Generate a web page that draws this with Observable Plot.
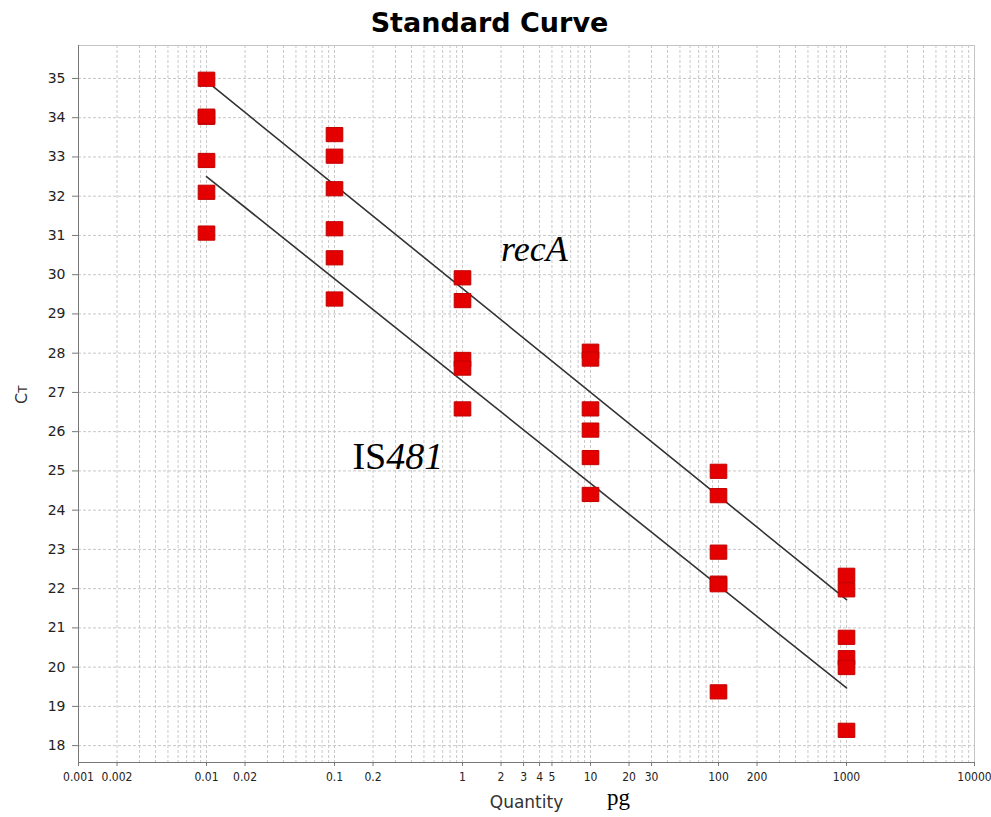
<!DOCTYPE html>
<html><head><meta charset="utf-8">
<script src="https://cdn.jsdelivr.net/npm/d3@7"></script>
<script src="https://cdn.jsdelivr.net/npm/@observablehq/plot@0.6"></script>
<style>body{margin:0;background:#fff}</style>
</head><body><div id="chart"></div>
<script>
// ---- data ----
const concentrations = [0.01, 0.1, 1, 10, 100, 1000];
const recACt = [
  [34.98, 34.01, 34.04, 32.91],
  [33.57, 33.02, 32.19],
  [29.92, 29.34],
  [28.05, 27.85, 26.58, 26.04],
  [24.99, 24.37],
  [22.34, 21.97, 20.76]
];
const is481Ct = [
  [32.10, 31.06],
  [31.17, 30.43, 29.38],
  [27.84, 27.62, 26.58],
  [25.34, 24.40],
  [22.93, 22.14, 22.10, 19.37],
  [20.24, 19.99, 18.39]
];
const fitX = [0.01, 1000];
const recAFit = [34.93, 21.72];
const is481Fit = [32.50, 19.47];
const yTicks = [18, 19, 20, 21, 22, 23, 24, 25, 26, 27, 28, 29, 30, 31, 32, 33, 34, 35];
const xTickValues = [0.001, 0.002, 0.01, 0.02, 0.1, 0.2, 1, 2, 3, 4, 5, 10, 20, 30, 100, 200, 1000, 10000];
const xTickLabels = ["0.001", "0.002", "0.01", "0.02", "0.1", "0.2", "1", "2", "3", "4", "5", "10", "20", "30", "100", "200", "1000", "10000"];
const labelNames = ["recA", "IS481"];
const labelX = [2, 0.138];
const labelY = [30.65, 25.37];
const titleText = "Standard Curve";
const xTitle = "Quantity";
const xUnit = "pg";
const yTitle = "CT";

// ---- build tables ----
const points = [];
concentrations.forEach((c, i) => {
  recACt[i].forEach(v => points.push({x: c, y: v, gene: "recA"}));
  is481Ct[i].forEach(v => points.push({x: c, y: v, gene: "IS481"}));
});
const fits = fitX.map((x, i) => ({x, recA: recAFit[i], is481: is481Fit[i]}));
const labels = labelNames.map((t, i) => ({t, x: labelX[i], y: labelY[i]}));
const xTicks = xTickValues.map((v, i) => ({v, label: xTickLabels[i]}));

const xDomain = [0.001, 10000];
const yDomain = [17.57, 35.84];
const square = {draw(ctx) { ctx.rect(-8.3, -7.1, 16.6, 14.2); }};
const gridStyle = {stroke: "#c8c8c8", strokeOpacity: 1, strokeDasharray: "3,2"};

const chart = Plot.plot({
  width: 991, height: 817,
  marginLeft: 78, marginRight: 17, marginTop: 45, marginBottom: 55,
  style: {background: "#fff", fontFamily: "DejaVu Sans, sans-serif"},
  x: {type: "log", domain: xDomain},
  y: {domain: yDomain},
  marks: [
    Plot.gridX(d3.scaleLog().domain(xDomain).ticks(), gridStyle),
    Plot.gridY(yTicks, gridStyle),
    Plot.frame({stroke: "#c4c4c4"}),
    Plot.ruleX([xDomain[0]], {stroke: "#777"}),
    Plot.ruleY([yDomain[0]], {stroke: "#777"}),
    Plot.axisY(yTicks, {tickSize: 6, tickPadding: 7, fontSize: 14, fill: "#222", stroke: "#777", label: null}),
    Plot.axisX(xTickValues, {tickSize: 4, stroke: "#777", fill: "none", label: null}),
    Plot.text(xTicks, {x: "v", text: "label", frameAnchor: "bottom", lineAnchor: "middle", dy: 15, fontSize: 12, fill: "#222",
      fontFamily: "Liberation Sans Narrow, DejaVu Sans Condensed, sans-serif"}),
    Plot.line(fits, {x: "x", y: "recA", stroke: "#333", strokeWidth: 1.6}),
    Plot.line(fits, {x: "x", y: "is481", stroke: "#333", strokeWidth: 1.6}),
    Plot.dot(points, {x: "x", y: "y", symbol: square, r: 8, fill: "#e40000", stroke: "#c20000", strokeWidth: 1}),
    Plot.text(labels.filter(d => d.t === "recA"), {x: "x", y: "y", text: "t", textAnchor: "start",
      fontFamily: "Liberation Serif, serif", fontSize: 36, fontStyle: "italic", fill: "#000"}),
    Plot.text(labels.filter(d => d.t !== "recA"), {x: "x", y: "y", text: "t", textAnchor: "start",
      fontFamily: "Liberation Serif, serif", fontSize: 38, fill: "#000"}),
    Plot.text([titleText], {text: d => d, frameAnchor: "top", lineAnchor: "middle", dx: -37, dy: -22, fontSize: 27, fontWeight: "bold", fill: "#000"}),
    Plot.text([xTitle], {text: d => d, frameAnchor: "bottom", lineAnchor: "middle", dx: 0, dy: 40, fontSize: 17, fill: "#333"}),
    Plot.text([xUnit], {text: d => d, frameAnchor: "bottom", lineAnchor: "middle", dx: 92, dy: 35, fontSize: 23, fontFamily: "Liberation Serif, serif", fill: "#000"}),
    Plot.text([yTitle], {text: d => d, frameAnchor: "left", lineAnchor: "middle", dx: -57, dy: 0, rotate: -90, fontSize: 16, fill: "#333"})
  ]
});

// mixed-style labels
d3.select(chart).selectAll("text").each(function() {
  const el = d3.select(this);
  const t = this.textContent;
  if (t === "IS481") {
    el.text(null);
    el.append("tspan").text("IS");
    el.append("tspan").attr("font-style", "italic").text("481");
  } else if (t === "CT") {
    el.text(null);
    el.append("tspan").text("C");
    el.append("tspan").attr("font-size", 12).text("T");
  }
});
document.getElementById("chart").appendChild(chart);
</script>
</body></html>
